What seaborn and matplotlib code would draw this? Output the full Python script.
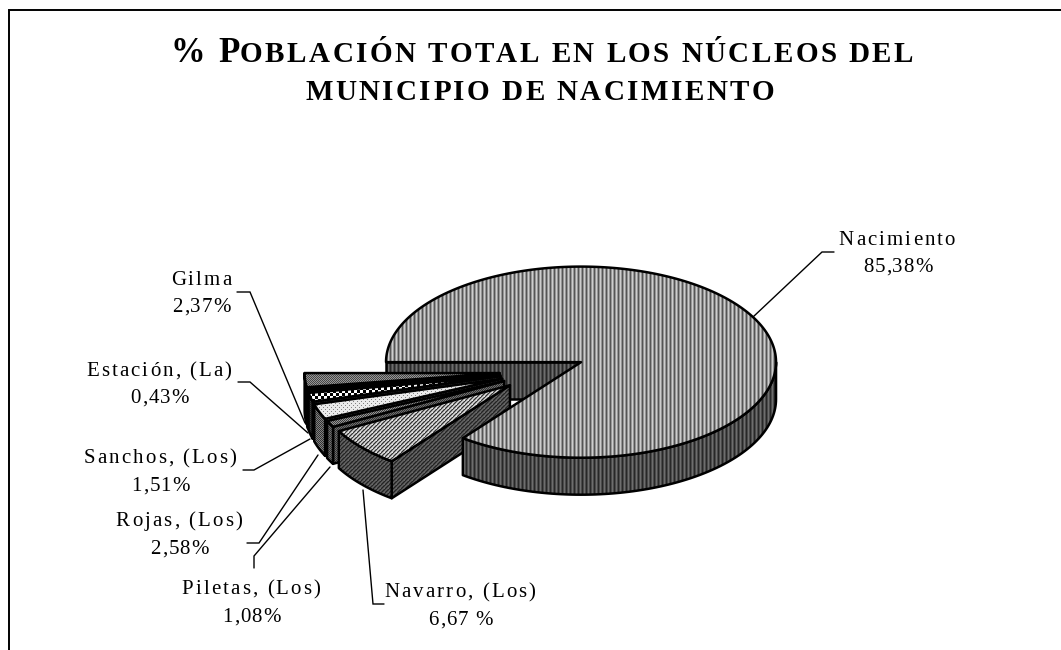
import numpy as np
import seaborn as sns
import matplotlib
matplotlib.use('Agg')
import matplotlib.pyplot as plt
from matplotlib.font_manager import findfont, get_font
from matplotlib.ft2font import LoadFlags
from matplotlib.patches import Polygon
from matplotlib.text import Text

names = ['Nacimiento', 'Navarro, (Los)', 'Piletas, (Los)', 'Rojas, (Los)',
         'Sanchos, (Los)', 'Estación, (La)', 'Gilma']
shares = [85.38, 6.67, 1.08, 2.58, 1.51, 0.43, 2.37]
share_labels = ['85,38%', '6,67 %', '1,08%', '2,58%', '1,51%', '0,43%', '2,37%']

W, H = 1061, 650
CX, CY = 542.5, 371.5   # pie centre before the slices are pulled out
RX, TILT = 195, 0.49
EXPLODE = 43
DEPTH = 37

# grey pixel tiles, one for the top and one for the side of every slice
top_tiles = [
    [[205, 150, 85, 150]],
    [[220, 50, 150, 220], [50, 150, 220, 150], [150, 220, 150, 50], [220, 150, 50, 150]],
    [[60, 150], [150, 60]],
    [[235, 235, 235, 235], [235, 130, 235, 235], [235, 235, 235, 235], [235, 235, 235, 130]],
    [[255, 255, 255, 0, 0, 0]] * 3 + [[0, 0, 0, 255, 255, 255]] * 3,
    [[0]],
    [[70, 150], [150, 70]],
]
side_tiles = [
    [[110, 75, 40, 75]],
    [[100, 35, 70, 100], [35, 70, 100, 70], [70, 100, 70, 35], [100, 70, 35, 70]],
    [[50, 110], [110, 50]],
    [[50, 130], [130, 50]],
    [[30, 60], [60, 30]],
    [[0]],
    [[0]],
]

# (x, y) of the two lines of each label, then the leader line
label_spots = [(898, 245, 272), (461, 597, 625), (252, 594, 622), (180, 526, 554),
               (161, 463, 491), (160, 376, 403), (202, 285, 312)]
leaders = [[(834, 252), (822, 252), (753, 317)],
           [(384, 604), (373, 604), (363, 490)],
           [(254, 568), (254, 556), (330, 467)],
           [(247, 543), (259, 543), (318, 455)],
           [(243, 470), (254, 470), (310, 439)],
           [(238, 382), (250, 382), (308, 433)],
           [(237, 292), (250, 292), (305, 423)]]


class SpacedText(Text):
    # keeps the whole string but draws it glyph by glyph with extra tracking
    def __init__(self, *args, tracking=0, **kwargs):
        super().__init__(*args, **kwargs)
        self.tracking = tracking

    def draw(self, renderer):
        font = get_font(findfont(self.get_fontproperties()))
        font.set_size(self.get_fontsize(), self.figure.dpi)
        s = self.get_text()
        adv = [font.load_char(ord(c), flags=LoadFlags.NO_HINTING).linearHoriAdvance / 65536 + self.tracking
               for c in s]
        x0, y0 = self.get_transform().transform(self.get_position())
        x = x0 - sum(adv) / 2 if self.get_ha() == 'center' else x0
        for c, a in zip(s, adv):
            g = Text(x, y0, c, fontproperties=self.get_fontproperties(), color=self.get_color(),
                     ha='left', va='baseline', transform=None)
            g.set_figure(self.figure)
            g.draw(renderer)
            x += a


def spaced(x, y, s, size, tracking, **kw):
    t = SpacedText(x, y, s, tracking=tracking, fontsize=size, ha=kw.pop('ha', 'center'), va='baseline',
                   color='black', transform=ax.transData, **kw)
    ax.add_artist(t)
    return t


def ax_order():
    order[0] += 1
    return order[0]


def fill(pts, tile):
    poly = Polygon(pts, closed=True, facecolor='none', edgecolor='none')
    ax.add_patch(poly)
    tile = np.array(tile)
    img = np.tile(tile, (H // tile.shape[0] + 1, W // tile.shape[1] + 1))[:H, :W]
    ax.imshow(img, cmap='gray', vmin=0, vmax=255, extent=(0, W, H, 0), aspect='auto',
              interpolation='nearest', clip_path=poly, zorder=ax_order())
    ax.add_patch(Polygon(pts, closed=True, facecolor='none', edgecolor='black',
                         linewidth=1.8, joinstyle='round', zorder=ax_order()))


order = [2]


def rim(ox, oy, a, b, n=90):
    t = np.radians(np.linspace(a, b, n))
    return np.column_stack([ox + RX * np.cos(t), oy - RX * TILT * np.sin(t)])


sns.set_theme(style='white')
plt.rcParams['font.family'] = ['Liberation Serif', 'DejaVu Serif']

fig = plt.figure(figsize=(W / 100, H / 100), dpi=100)
ax = fig.add_axes([0, 0, 1, 1])
ax.axis('off')

# angles run clockwise from the left edge of the big slice
sweep = np.array(shares) / sum(shares) * 360
ends = 180 - np.cumsum(sweep)
starts = ends + sweep
mids = (starts + ends) / 2
ox = CX + EXPLODE * np.cos(np.radians(mids))
oy = CY - EXPLODE * TILT * np.sin(np.radians(mids))
drop = np.array([0, DEPTH])

# wall of the big slice behind the exploded ones
apex = np.array([ox[0], oy[0]])
left = rim(ox[0], oy[0], starts[0], starts[0], 1)[0]
fill([apex, left, left + drop, apex + drop], side_tiles[0])

# back to front: Gilma first, Navarro last
for i in range(len(shares) - 1, 0, -1):
    apex = np.array([ox[i], oy[i]])
    edge = rim(ox[i], oy[i], starts[i], ends[i])
    # the small slices all sit on the lower left, so the near cut and the rim show
    fill([apex, edge[0], edge[0] + drop, apex + drop], side_tiles[i])
    fill(np.vstack([edge, edge[::-1] + drop]), side_tiles[i])
    fill(np.vstack([apex, edge]), top_tiles[i])

# the big slice goes last, its front rim hides the end of the Navarro wall
front = rim(ox[0], oy[0], 0, ends[0])
fill(np.vstack([front, front[::-1] + drop]), side_tiles[0])
fill(np.vstack([[ox[0], oy[0]], rim(ox[0], oy[0], starts[0], ends[0], 300)]), top_tiles[0])

for name, pct, spot, line in zip(names, share_labels, label_spots, leaders):
    spaced(spot[0], spot[1], name, 15, 2.1)
    spaced(spot[0], spot[2], pct, 15, 1.0)
    ax.plot(*zip(*line), color='black', lw=1, zorder=900, solid_joinstyle='miter')

# title, small caps done by hand
spaced(170, 62, '% P', 25, 2.5, ha='left', fontweight='bold')
spaced(240, 62, 'OBLACIÓN TOTAL EN LOS NÚCLEOS DEL', 21, 2.4, ha='left', fontweight='bold')
spaced(541, 100, 'MUNICIPIO DE NACIMIENTO', 21, 2.4, fontweight='bold')

# chart area border: only left and top fall inside the crop
ax.plot([8.5, 8.5, W], [H, 9.5, 9.5], color='black', lw=1.4, zorder=950, solid_joinstyle='miter')

ax.set_xlim(0, W)
ax.set_ylim(H, 0)
fig.savefig('out.png', dpi=100)
